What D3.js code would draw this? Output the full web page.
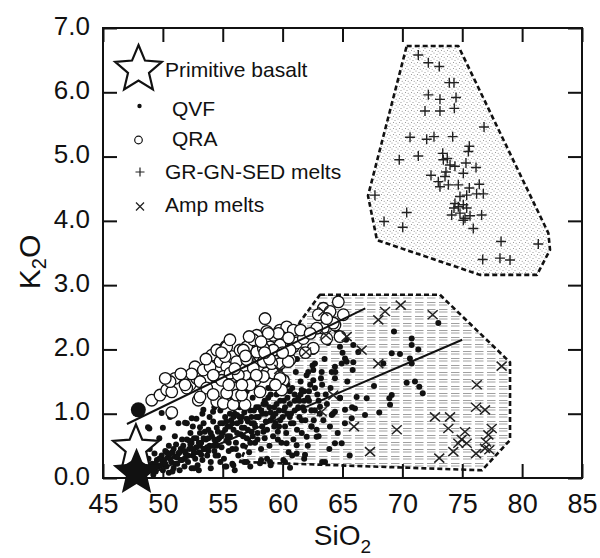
<!DOCTYPE html>
<html>
<head>
<meta charset="utf-8">
<script src="https://cdn.jsdelivr.net/npm/d3@7/dist/d3.min.js"></script>
<style>
  body { margin: 0; background: #fff; }
  svg text { font-family: "Liberation Sans", Arial, Helvetica, sans-serif; fill: #111; }
</style>
</head>
<body>
<div id="chart"></div>
<script>
// ---- data (SiO2, K2O) ----
var xTicks = [45, 50, 55, 60, 65, 70, 75, 80, 85];
var yTicks = [0, 1, 2, 3, 4, 5, 6, 7];
var legendLabels = ["Primitive basalt", "QVF", "QRA", "GR-GN-SED melts", "Amp melts"];

var primitiveOpen = [[47.75, 0.46]];
var primitiveFilled = [[47.8, 0.08]];
var primitiveDot = [[47.95, 1.06]];

var grField = [[70.36, 6.72], [74.67, 6.72], [82.19, 3.81], [82.33, 3.55], [81.24, 3.16],
  [76.48, 3.16], [67.88, 3.70], [67.13, 4.39]];
var ampField = [[63.12, 2.85], [73.14, 2.85], [78.99, 1.80], [78.99, 0.59], [76.65, 0.12],
  [56.44, 0.25], [61.45, 2.43]];

var qraTrend = [[47.0, 0.84], [66.9, 2.64]];
var qvfTrend = [[49.0, 0.07], [75.0, 2.15]];

var qvf = [
  [48.6,0.15],[48.8,0.30],[49.0,0.12],[49.1,0.22],[49.3,0.38],[49.4,0.10],[49.5,0.28],[48.9,0.45],[49.2,0.55],[49.6,0.18],
  [49.8,0.20],[49.9,0.35],[50.0,0.12],[50.1,0.28],[50.2,0.42],[50.3,0.18],[50.4,0.32],[50.5,0.08],[50.5,0.50],[49.7,0.62],[50.0,0.78],
  [50.7,0.25],[50.8,0.40],[50.9,0.15],[51.0,0.33],[51.1,0.52],[51.2,0.22],[51.3,0.38],[51.4,0.12],[51.5,0.45],[51.0,0.65],[51.3,0.85],[50.6,0.95],
  [51.6,0.28],[51.7,0.50],[51.8,0.18],[51.9,0.38],[52.0,0.60],[52.1,0.25],[52.2,0.45],[52.3,0.70],[52.4,0.15],[52.5,0.35],[52.0,0.85],[52.4,0.55],
  [52.6,0.62],[52.7,0.30],[52.8,0.48],[52.9,0.20],[53.0,0.40],[53.1,0.70],[53.2,0.55],[53.3,0.28],[53.4,0.85],[53.5,0.45],[52.8,0.92],[53.3,1.00],[53.0,0.12],
  [53.6,0.60],[53.7,0.35],[53.8,0.75],[53.9,0.50],[54.0,0.25],[54.1,0.65],[54.2,0.88],[54.3,0.42],[54.4,0.55],[54.5,0.78],[53.9,0.95],[54.3,1.10],[54.0,0.15],
  [54.6,0.35],[54.7,0.62],[54.8,0.85],[54.9,0.48],[55.0,0.70],[55.1,0.30],[55.2,0.95],[55.3,0.58],[55.4,0.80],[55.5,0.42],[54.8,1.05],[55.3,0.18],[55.0,1.20],
  [55.6,0.65],[55.7,0.90],[55.8,0.45],[55.9,0.75],[56.0,1.00],[56.1,0.55],[56.2,0.85],[56.3,0.35],[56.4,1.10],[56.5,0.68],[55.8,0.22],[56.2,1.25],[56.0,0.12],
  [56.6,0.95],[56.7,0.50],[56.8,0.78],[56.9,1.15],[57.0,0.62],[57.1,0.88],[57.2,0.40],[57.3,1.05],[57.4,0.72],[57.5,1.25],[56.8,0.25],[57.3,0.18],[57.0,1.35],
  [57.6,0.85],[57.7,0.55],[57.8,1.10],[57.9,0.70],[58.0,0.95],[58.1,1.30],[58.2,0.45],[58.3,0.80],[58.4,1.15],[58.5,0.62],[57.8,1.40],[58.2,0.28],[58.0,1.55],
  [58.6,1.00],[58.7,0.75],[58.8,1.25],[58.9,0.50],[59.0,0.90],[59.1,1.40],[59.2,0.65],[59.3,1.10],[59.4,0.85],[59.5,1.30],[58.7,0.30],[59.2,1.60],[59.0,0.20],
  [59.6,0.72],[59.7,1.05],[59.8,1.45],[59.9,0.55],[60.0,0.95],[60.1,1.20],[60.2,0.80],[60.3,1.55],[60.4,1.00],[60.5,0.40],[59.8,1.70],[60.2,0.25],[60.0,1.35],
  [60.6,1.15],[60.7,0.85],[60.8,1.40],[60.9,0.60],[61.0,1.05],[61.1,1.65],[61.2,0.75],[61.3,1.25],[61.4,0.95],[61.5,1.50],[60.8,0.35],[61.2,1.85],
  [61.6,0.70],[61.7,1.10],[61.8,1.35],[61.9,0.90],[62.0,1.60],[62.1,0.50],[62.2,1.20],[62.3,1.45],[62.4,0.80],[62.5,1.75],[61.8,0.30],[62.2,2.00],
  [62.7,1.05],[62.9,1.30],[63.0,0.65],[63.2,1.55],[63.4,0.90],[63.5,1.85],[63.7,1.15],[63.9,0.45],[64.0,1.40],[63.3,0.25],[63.8,2.10],
  [64.2,1.00],[64.4,1.65],[64.6,0.70],[64.8,1.25],[65.0,1.95],[65.2,0.85],[65.4,1.50],[65.6,0.35],[65.8,1.10],[64.5,2.30],[65.3,2.15],[65.9,1.80],
  // denser core of the band
  [49.4,0.22],[49.7,0.30],[50.0,0.25],[50.3,0.40],[50.6,0.30],[50.9,0.45],[51.2,0.32],[51.5,0.28],[51.8,0.42],[52.1,0.35],[49.2,0.05],[50.8,0.10],[51.6,0.60],[52.3,0.52],
  [52.5,0.45],[52.8,0.62],[53.1,0.50],[53.4,0.62],[53.7,0.48],[54.0,0.70],[54.3,0.60],[54.6,0.72],[54.9,0.65],[53.2,0.36],[53.8,0.42],[54.5,0.50],[55.2,0.75],[52.6,0.15],[54.8,0.25],
  [55.3,0.88],[55.6,0.80],[55.9,0.95],[56.2,0.70],[56.5,0.88],[56.8,1.02],[57.1,0.75],[57.4,0.95],[57.7,0.80],[58.0,1.10],[55.5,0.55],[56.1,0.45],[56.7,0.65],[57.3,0.55],[57.9,0.60],[56.4,0.95],[57.6,1.05],
  [58.3,1.00],[58.6,0.88],[58.9,1.10],[59.2,0.95],[59.5,1.15],[59.8,0.90],[60.1,1.05],[60.4,1.25],[60.7,1.00],[61.0,1.20],[58.5,1.20],[59.0,1.30],[59.6,0.60],[60.3,0.70],[60.9,0.85],[58.4,0.72],[59.3,0.80],[60.6,1.35],[61.3,1.10],
  [61.5,1.30],[61.8,1.05],[62.1,1.25],[62.4,1.05],[62.7,1.40],[63.0,1.20],[63.3,1.45],[63.6,1.30],[61.6,0.90],[62.6,0.90],[63.1,1.00],
  [50.2,0.22],[50.6,0.38],[51.0,0.22],[51.4,0.40],[51.8,0.30],[52.2,0.58],[52.6,0.40],[53.0,0.55],[53.4,0.45],[53.8,0.62],
  [54.2,0.50],[54.6,0.60],[55.0,0.85],[55.4,0.65],[55.8,0.85],[56.2,0.98],[56.6,0.78],[57.0,0.92],[57.4,0.85],[57.8,0.95],
  [58.2,1.05],[58.6,1.15],[59.0,1.02],[59.4,1.00],[59.8,1.20],[60.2,1.10],[60.6,0.95],[61.0,1.30],[61.4,1.20],[61.8,1.20],
  [62.2,1.35],[55.6,1.00],[56.8,1.25],[58.8,1.40],[60.4,1.45],[57.5,0.65],[59.7,0.80],[54.4,0.35],[53.5,0.72],[52.5,0.80],
  // scattered points at higher silica
  [73.00,2.41],[69.30,2.28],[70.78,2.17],[71.33,2.00],[70.78,2.07],[69.11,1.94],[69.80,1.93],[70.63,1.86],[70.78,1.78],[68.41,1.78],
  [65.85,1.68],[67.63,1.43],[70.36,1.48],[71.05,1.50],[71.41,1.42],[71.70,1.32],[69.11,1.29],[68.91,1.24],[67.02,1.24],[66.18,1.26],
  [68.97,1.14],[66.04,1.08],[66.88,0.98],[68.07,1.02],[65.77,0.93],[64.79,2.04],[64.93,1.78],[62.56,1.96],[62.56,1.68],[63.26,1.65],
  [64.10,1.65],[64.37,1.55],[62.56,1.52],[64.79,1.24],[64.10,0.98],[64.93,0.54],[62.84,0.64],[62.42,0.80],[61.87,0.36],[63.54,0.25],[60.62,0.16],
  [62.14,1.65],[62.70,1.78],[64.37,1.73],[65.35,1.81],[66.32,1.96],[61.59,1.37],[63.12,1.11],[64.37,1.03],[65.21,1.06],[63.95,0.80],
  [62.84,0.75],[62.01,0.64],[64.37,0.54],[61.17,0.38],[60.06,0.28],[58.95,0.25],[58.11,0.23],[57.00,0.25],[55.88,0.20],[55.19,0.18],
  [61.17,0.51],[60.33,0.54],[65.21,1.86],[65.90,2.07],
  [49.90,1.01],[48.76,0.79],[51.85,0.86],[52.41,0.93],[54.19,1.03],[53.10,0.79],[48.87,0.77],[53.38,1.06]
];

var qra = [
  [49.07,1.21],[49.76,1.29],[50.32,1.37],[50.74,1.34],[51.01,1.55],[50.60,1.50],[50.74,1.02],[52.27,1.45],[51.99,1.40],[52.68,1.73],
  [52.82,1.55],[53.10,1.50],[52.96,1.21],[53.38,1.68],[54.08,1.91],[54.50,1.99],[55.27,2.05],[54.77,1.81],[53.94,1.73],[54.35,1.58],
  [55.33,1.73],[55.05,1.58],[55.75,1.60],[54.50,1.19],[55.05,1.16],[55.46,1.32],[55.88,1.40],[53.66,1.40],[55.75,1.89],[55.88,1.14],
  [56.44,1.99],[57.69,2.12],[58.53,2.48],[58.11,1.89],[57.13,1.84],[57.00,1.58],[55.88,1.58],[54.91,1.52],[56.16,1.29],[56.86,1.14],
  [57.69,1.52],[58.67,1.63],[58.39,1.81],[58.95,2.04],[59.22,2.22],[59.78,2.30],[60.34,2.35],[60.89,2.30],[60.20,2.15],[59.64,1.99],
  [58.67,2.28],[57.84,2.22],[57.00,2.04],[60.89,2.04],[59.78,1.78],[60.62,1.84],[59.22,1.63],[60.06,1.52],[58.11,1.34],[59.92,1.37],
  [57.55,2.15],[59.64,2.25],[61.17,2.10],[60.62,1.99],[59.78,2.07],[59.22,1.99],[57.84,1.96],[56.72,1.99],[55.33,2.04],[55.19,1.89],
  [56.16,1.81],[57.55,1.71],[59.09,1.78],[60.47,1.81],[58.39,1.58],[59.78,1.55],[55.61,1.63],[56.30,1.60],[55.33,1.32],[56.58,1.29],
  [62.56,2.02],[63.40,2.33],[62.85,2.33],[63.68,2.17],[64.65,2.74],[65.07,2.54],[63.40,2.64],[62.98,2.54],[64.37,2.38],[64.79,2.20],
  [61.73,2.17],[63.96,2.59],[64.23,2.41],[63.68,2.48],[58.80,2.25],[58.39,2.02],[57.00,1.84],[53.10,1.26],[54.21,1.60],[51.85,1.45],
  [57.28,1.45],[53.60,1.85],[54.20,1.30],[54.90,1.95],[55.60,2.15],[56.00,1.70],[56.60,1.45],[57.20,2.20],[57.80,1.60],[58.20,2.12],
  [58.90,1.85],[59.40,1.45],[60.00,1.95],[60.50,2.18],[61.50,2.30],[61.90,1.95],[62.30,2.25],[56.90,1.90],[55.50,1.45],[58.50,1.95],
  [52.40,1.62],[51.50,1.62],[50.20,1.55]
];

var grgnsed = [
  [71.33,6.58],[72.17,6.46],[73.08,6.40],[73.92,6.15],[74.31,6.15],[72.17,5.96],[73.14,5.89],[74.48,5.92],[71.89,5.71],[73.14,5.71],
  [74.34,5.75],[76.82,5.46],[70.64,5.30],[72.03,5.27],[72.64,5.31],[74.20,5.31],[75.59,5.16],[75.51,5.08],[69.74,4.95],[71.33,5.01],
  [73.37,5.05],[73.75,4.97],[73.98,4.87],[74.39,4.85],[75.31,4.90],[76.15,4.83],[73.64,4.76],[75.09,4.74],[72.39,4.71],[73.00,4.61],
  [73.14,4.53],[73.84,4.56],[74.67,4.56],[75.59,4.51],[76.42,4.57],[67.71,4.40],[75.37,4.40],[76.20,4.42],[76.76,4.42],[74.39,4.27],
  [74.67,4.22],[74.31,4.20],[75.09,4.25],[75.37,4.20],[70.36,4.13],[74.12,4.09],[74.81,4.12],[75.23,4.04],[75.65,4.08],[76.62,4.09],
  [68.47,3.99],[75.92,3.88],[70.03,3.90],[75.09,4.01],[78.24,3.68],[81.35,3.64],[76.71,3.40],[78.15,3.42],[78.99,3.39],[74.81,4.38],
  [73.56,4.69],[73.42,4.95]
];

var amp = [
  [69.86,2.69],[68.55,2.59],[67.99,2.46],[72.53,2.54],[66.60,1.99],[67.99,1.78],[78.29,1.74],[76.21,1.45],[76.15,1.10],[76.90,1.06],
  [72.72,0.95],[73.98,0.95],[65.96,0.80],[69.53,0.75],[73.84,0.77],[75.23,0.72],[77.46,0.77],[77.18,0.67],[74.95,0.60],[74.67,0.54],
  [75.37,0.54],[76.98,0.56],[67.30,0.41],[74.25,0.41],[76.15,0.38],[76.90,0.46],[77.26,0.44],[73.08,0.31],[63.40,2.59],[63.62,2.22],
  [65.35,2.20],[61.95,1.96],[64.23,1.29],[63.26,1.03],[59.72,1.69]
];

// ---- layout ----
var svgWidth = 600;
var svgHeight = 558;
var margin = { top: 28, right: 18, bottom: 80, left: 103 };
var width = svgWidth - margin.left - margin.right;
var height = svgHeight - margin.top - margin.bottom;

var svg = d3.select("#chart")
  .append("svg")
  .attr("width", svgWidth)
  .attr("height", svgHeight);

var defs = svg.append("defs");

// stipple for the melt field
var stip = defs.append("pattern")
  .attr("id", "stipple")
  .attr("patternUnits", "userSpaceOnUse")
  .attr("width", 6).attr("height", 6);
[[1, 1], [4, 2.5], [2.5, 4.5], [5.2, 5.3]].forEach(function(p) {
  stip.append("circle").attr("cx", p[0]).attr("cy", p[1]).attr("r", 0.55).attr("fill", "#8a8a8a");
});

// horizontal dashes for the amphibolite field
var hatch = defs.append("pattern")
  .attr("id", "hatch")
  .attr("patternUnits", "userSpaceOnUse")
  .attr("width", 12).attr("height", 7);
hatch.append("path")
  .attr("d", "M0,1.5H8.5M0,4H8.5")
  .attr("stroke", "#a0a0a0")
  .attr("stroke-width", 1);

var chartGroup = svg.append("g")
  .attr("transform", `translate(${margin.left}, ${margin.top})`);

// scales
var xScale = d3.scaleLinear().domain([45, 85]).range([0, width]);
var yScale = d3.scaleLinear().domain([0, 7]).range([height, 0]);

// fields
var fieldLine = d3.line()
  .x(d => xScale(d[0]))
  .y(d => yScale(d[1]))
  .curve(d3.curveLinearClosed);

chartGroup.append("path")
  .attr("d", fieldLine(grField))
  .attr("fill", "url(#stipple)")
  .attr("stroke", "#111")
  .attr("stroke-width", 2.6)
  .attr("stroke-dasharray", "5,3")
  .attr("stroke-linejoin", "round");

chartGroup.append("path")
  .attr("d", fieldLine(ampField))
  .attr("fill", "url(#hatch)")
  .attr("stroke", "#111")
  .attr("stroke-width", 2.6)
  .attr("stroke-dasharray", "5,3")
  .attr("stroke-linejoin", "round");

// axes (ticks pointing inward)
var xAxis = d3.axisBottom(xScale).tickValues(xTicks).tickSize(-14).tickPadding(16).tickFormat(d3.format("d"));
var yAxis = d3.axisLeft(yScale).tickValues(yTicks).tickSize(-14).tickPadding(13).tickFormat(d3.format(".1f"));
var xTop = d3.axisTop(xScale).tickValues(xTicks).tickSize(-14).tickFormat("");
var yRight = d3.axisRight(yScale).tickValues(yTicks).tickSize(-14).tickFormat("");

var gx = chartGroup.append("g").attr("transform", `translate(0, ${height})`).call(xAxis);
var gy = chartGroup.append("g").call(yAxis);
var gt = chartGroup.append("g").call(xTop);
var gr = chartGroup.append("g").attr("transform", `translate(${width}, 0)`).call(yRight);

[gx, gy, gt, gr].forEach(function(g) {
  g.select(".domain").remove();
  g.selectAll(".tick line").attr("stroke", "#111").attr("stroke-width", 2);
});
gx.selectAll("text").attr("font-size", 27).attr("fill", "#111");
gy.selectAll("text").attr("font-size", 26).attr("fill", "#111").attr("dy", "0.24em");

chartGroup.append("rect")
  .attr("width", width)
  .attr("height", height)
  .attr("fill", "none")
  .attr("stroke", "#111")
  .attr("stroke-width", 2);

// QVF dots
chartGroup.append("g").selectAll("circle")
  .data(qvf)
  .enter()
  .append("circle")
  .attr("cx", d => xScale(d[0]))
  .attr("cy", d => yScale(d[1]))
  .attr("r", 3)
  .attr("fill", "#111");

// QRA open circles
chartGroup.append("g").selectAll("circle")
  .data(qra)
  .enter()
  .append("circle")
  .attr("cx", d => xScale(d[0]))
  .attr("cy", d => yScale(d[1]))
  .attr("r", 5.8)
  .attr("fill", "#fff")
  .attr("stroke", "#111")
  .attr("stroke-width", 1.3);

// trend lines
var trend = d3.line().x(d => xScale(d[0])).y(d => yScale(d[1]));
[qraTrend, qvfTrend].forEach(function(t) {
  chartGroup.append("path")
    .attr("d", trend(t))
    .attr("fill", "none")
    .attr("stroke", "#111")
    .attr("stroke-width", 2);
});

// GR-GN-SED melts (+)
chartGroup.append("g").selectAll("path")
  .data(grgnsed)
  .enter()
  .append("path")
  .attr("transform", d => `translate(${xScale(d[0])}, ${yScale(d[1])})`)
  .attr("d", "M-5,0H5M0,-5V5")
  .attr("stroke", "#222")
  .attr("stroke-width", 1.4);

// Amp melts (x)
chartGroup.append("g").selectAll("path")
  .data(amp)
  .enter()
  .append("path")
  .attr("transform", d => `translate(${xScale(d[0])}, ${yScale(d[1])})`)
  .attr("d", "M-5,-4.5L5,4.5M-5,4.5L5,-4.5")
  .attr("stroke", "#222")
  .attr("stroke-width", 1.5);

// star shape
function starPath(R) {
  var pts = [];
  for (var i = 0; i < 10; i++) {
    var r = i % 2 === 0 ? R : R * 0.45;
    var a = -Math.PI / 2 + i * Math.PI / 5;
    pts.push([r * Math.cos(a), r * Math.sin(a)]);
  }
  return "M" + pts.map(p => p[0].toFixed(2) + "," + p[1].toFixed(2)).join("L") + "Z";
}

chartGroup.selectAll(".popen")
  .data(primitiveOpen)
  .enter()
  .append("path")
  .attr("transform", d => `translate(${xScale(d[0])}, ${yScale(d[1])})`)
  .attr("d", starPath(24))
  .attr("fill", "#fff")
  .attr("stroke", "#111")
  .attr("stroke-width", 2.2);

chartGroup.selectAll(".pfill")
  .data(primitiveFilled)
  .enter()
  .append("path")
  .attr("transform", d => `translate(${xScale(d[0])}, ${yScale(d[1])})`)
  .attr("d", starPath(25))
  .attr("fill", "#111");

chartGroup.selectAll(".pdot")
  .data(primitiveDot)
  .enter()
  .append("circle")
  .attr("cx", d => xScale(d[0]))
  .attr("cy", d => yScale(d[1]))
  .attr("r", 7.5)
  .attr("fill", "#111");

// legend
var legend = svg.append("g");
legend.append("path")
  .attr("transform", "translate(138.5, 69.5)")
  .attr("d", starPath(24.5))
  .attr("fill", "#fff")
  .attr("stroke", "#111")
  .attr("stroke-width", 2.2);
legend.append("circle").attr("cx", 139.5).attr("cy", 106).attr("r", 2.2).attr("fill", "#111");
legend.append("circle").attr("cx", 138.5).attr("cy", 140).attr("r", 3.8)
  .attr("fill", "#fff").attr("stroke", "#111").attr("stroke-width", 1.2);
legend.append("path").attr("d", "M135.5,172H144.5M140,167.5V176.5")
  .attr("stroke", "#222").attr("stroke-width", 1.2);
legend.append("path").attr("d", "M136,202.5L144,210.5M136,210.5L144,202.5")
  .attr("stroke", "#222").attr("stroke-width", 1.3);

var legendPos = [[165, 77], [172, 116], [172, 146], [165, 179], [165, 212]];
legend.selectAll("text")
  .data(legendLabels)
  .enter()
  .append("text")
  .attr("x", (d, i) => legendPos[i][0])
  .attr("y", (d, i) => legendPos[i][1])
  .attr("font-size", 21)
  .text(d => d);

// axis titles
var xt = svg.append("text")
  .attr("x", margin.left + width / 2)
  .attr("y", 545)
  .attr("text-anchor", "middle")
  .attr("font-size", 28);
xt.append("tspan").text("SiO");
xt.append("tspan").attr("font-size", 19).attr("dy", 8).text("2");

var yt = svg.append("text")
  .attr("transform", "translate(40, 262) rotate(-90)")
  .attr("text-anchor", "middle")
  .attr("font-size", 30);
yt.append("tspan").text("K");
yt.append("tspan").attr("font-size", 20).attr("dy", 6).text("2");
yt.append("tspan").attr("dy", -6).text("O");
</script>
</body>
</html>
